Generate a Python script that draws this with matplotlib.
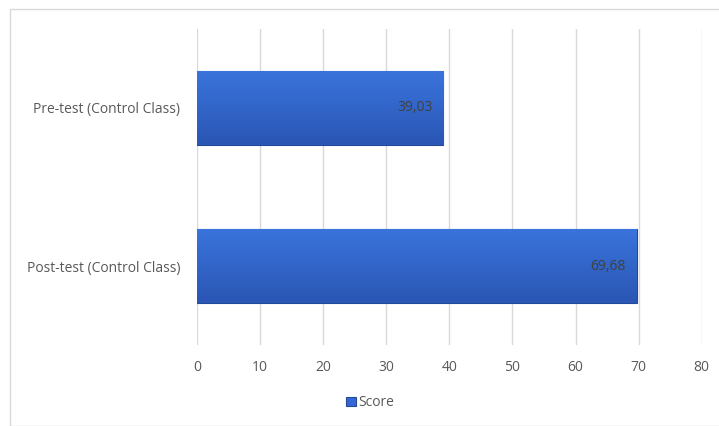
import numpy as np
import matplotlib.pyplot as plt
from matplotlib.patches import Rectangle

categories = ['Post-test (Control Class)', 'Pre-test (Control Class)']
scores = [69.68, 39.03]
labels = ['69,68', '39,03']
xticks = [0, 10, 20, 30, 40, 50, 60, 70, 80]

plt.rcParams['font.family'] = ['Open Sans', 'DejaVu Sans']

fig = plt.figure(figsize=(7.19, 4.26), dpi=100)
ax = fig.add_axes([0.274, 0.19, 0.702, 0.742])

# outer chart frame
fig.patches.append(Rectangle((0.014, 0.0), 0.99, 0.98, transform=fig.transFigure,
                             fill=False, edgecolor='#d9d9d9', lw=1))

y = np.arange(len(categories))
bars = ax.barh(y, scores, height=0.47, color='#3467d0', edgecolor='#23499a', lw=0.8, zorder=3)

# simple vertical gradient on each bar
cmap = plt.matplotlib.colors.LinearSegmentedColormap.from_list('g', ['#2a56b4', '#3a74dc'])
grad = np.linspace(0, 1, 100).reshape(-1, 1)
for b in bars:
    x0, y0 = b.get_x(), b.get_y()
    w, h = b.get_width(), b.get_height()
    im = ax.imshow(grad, extent=[x0, x0 + w, y0, y0 + h], aspect='auto',
                   cmap=cmap, origin='lower', zorder=3.5)
    im.set_clip_path(b)

for yi, v, t in zip(y, scores, labels):
    ax.text(v - 1.7, yi, t, ha='right', va='center', fontsize=10, color='#404040', zorder=5)

ax.set_xlim(0, 80)
ax.set_ylim(-0.5, 1.5)
ax.set_xticks(xticks)
ax.set_yticks(y)
ax.set_yticklabels(categories)
ax.grid(axis='x', color='#d9d9d9', lw=1, zorder=0)
for s in ax.spines.values():
    s.set_visible(False)
ax.tick_params(axis='both', length=0, labelsize=10, labelcolor='#595959')
ax.tick_params(axis='x', pad=11)
ax.tick_params(axis='y', pad=12)

ax.legend([bars], ['Score'], loc='center', bbox_to_anchor=(0.515, 0.054),
          bbox_transform=fig.transFigure, frameon=False, fontsize=10,
          handlelength=0.7, handleheight=0.7, handletextpad=0.2,
          labelcolor='#595959')

fig.savefig('out.png', dpi=100)
